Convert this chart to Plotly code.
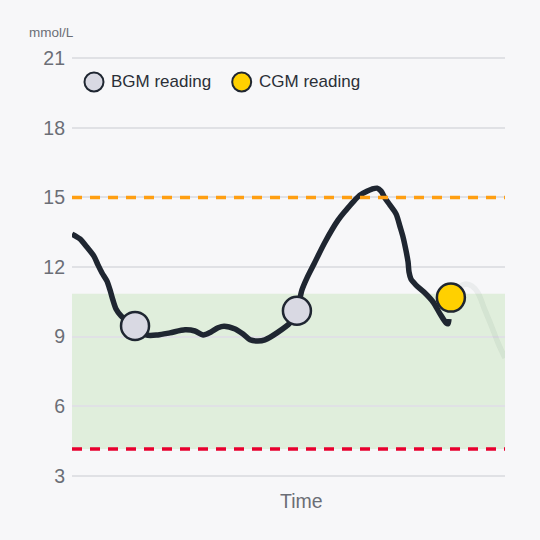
import plotly.graph_objects as go

# ---- data (time in minutes, glucose in mmol/L) ----
cgm_time = [0.0, 3.3, 6.2, 9.1, 10.8, 12.5, 14.5, 15.8, 17.0, 18.3, 20.4, 23.3, 26.2,
            30.8, 35.7, 40.7, 47.0, 51.1, 54.5, 57.8, 60.7, 63.2, 67.8, 71.1, 74.0,
            77.3, 80.2, 85.2, 90.6, 93.5, 95.6, 97.7, 100.6, 105.2, 110.6, 113.9,
            116.8, 119.7, 122.6, 124.7, 126.8, 128.5, 130.1, 132.2, 134.7, 136.4,
            137.6, 138.8, 139.7, 140.1, 140.9, 143.0, 146.3, 150.1, 153.0, 155.5,
            156.3, 156.7]
cgm_value = [13.42, 13.21, 12.86, 12.47, 12.09, 11.74, 11.40, 11.01, 10.58, 10.19, 9.89,
             9.63, 9.46, 9.07, 9.07, 9.16, 9.29, 9.24, 9.07, 9.20, 9.38, 9.45, 9.33,
             9.11, 8.86, 8.81, 8.86, 9.16, 9.59, 10.11, 11.01, 11.53, 12.13, 13.08,
             14.02, 14.45, 14.80, 15.10, 15.27, 15.36, 15.40, 15.27, 14.97, 14.67,
             14.29, 13.73, 13.30, 12.73, 12.22, 11.78, 11.48, 11.22, 10.92, 10.49,
             9.98, 9.59, 9.55, 9.76]

future_time = [157.5, 160.4, 163.8, 166.3, 168.8, 171.3, 174.2, 177.1, 180.0]
future_value = [10.67, 11.10, 11.27, 11.18, 10.88, 10.23, 9.50, 8.73, 8.08]

bgm_time = [26.2, 93.5]
bgm_value = [9.46, 10.11]

cgm_read_time = [157.5]
cgm_read_value = [10.68]

target_low = 4.15
target_high = 10.85
high_alert = 15.0

y_ticks = [3, 6, 9, 12, 15, 18, 21]
legend_labels = ["BGM reading", "CGM reading"]

# ---- style ----
BG = "#f7f7f9"
LINE = "#1f2631"
BGM_FILL = "#d9d9e3"
CGM_FILL = "#ffd000"
GRID = "#e0e1e5"
TICK = "#6b6e76"
FONT = "Liberation Sans, Arial, sans-serif"

fig = go.Figure()

fig.add_trace(go.Scatter(
    x=future_time, y=future_value, mode="lines",
    line=dict(color="rgba(40,70,50,0.06)", width=5.5, shape="spline", smoothing=1.0),
    hoverinfo="skip", showlegend=False))

fig.add_trace(go.Scatter(
    x=cgm_time, y=cgm_value, mode="lines",
    line=dict(color=LINE, width=5.5, shape="spline", smoothing=0.8),
    showlegend=False))

fig.add_trace(go.Scatter(
    x=bgm_time, y=bgm_value, mode="markers", name=legend_labels[0],
    marker=dict(size=28, color=BGM_FILL, line=dict(color=LINE, width=2.5)),
    showlegend=False))

fig.add_trace(go.Scatter(
    x=cgm_read_time, y=cgm_read_value, mode="markers", name=legend_labels[1],
    marker=dict(size=28, color=CGM_FILL, line=dict(color=LINE, width=2.5)),
    showlegend=False))

shapes = [
    dict(type="rect", xref="paper", yref="y", x0=0, x1=1, y0=target_low, y1=target_high,
         fillcolor="rgba(150,210,130,0.24)", line=dict(width=0), layer="below"),
    dict(type="line", xref="paper", yref="y", x0=0, x1=1, y0=high_alert, y1=high_alert,
         line=dict(color="#ff9f12", width=3.5, dash="10px,8px"), layer="above"),
    dict(type="line", xref="paper", yref="y", x0=0, x1=1, y0=target_low, y1=target_low,
         line=dict(color="#e8002e", width=3.5, dash="10px,8px"), layer="above"),
]

# legend (drawn manually to match symbol size)
leg_y = 0.9385
for cx, fill in [(0.0508, BGM_FILL), (0.3919, CGM_FILL)]:
    shapes.append(dict(type="circle", xref="paper", yref="paper",
                       xsizemode="pixel", ysizemode="pixel",
                       xanchor=cx, yanchor=leg_y, x0=-9.5, x1=9.5, y0=-9.5, y1=9.5,
                       fillcolor=fill, line=dict(color=LINE, width=2), layer="above"))

annotations = [
    dict(text=legend_labels[0], xref="paper", yref="paper", x=0.0855, y=leg_y,
         xanchor="left", yanchor="middle", showarrow=False,
         font=dict(size=17, color="#2b2f37", family=FONT)),
    dict(text=legend_labels[1], xref="paper", yref="paper", x=0.4266, y=leg_y,
         xanchor="left", yanchor="middle", showarrow=False,
         font=dict(size=17, color="#2b2f37", family=FONT)),
    dict(text="mmol/L", xref="paper", yref="paper", x=-0.0462, y=1.0568,
         xanchor="center", yanchor="middle", showarrow=False,
         font=dict(size=13.5, color=TICK, family=FONT)),
    dict(text="Time", xref="paper", yref="paper", x=0.5289, y=-0.0537,
         xanchor="center", yanchor="middle", showarrow=False,
         font=dict(size=19.5, color=TICK, family=FONT)),
]

fig.update_layout(
    width=540, height=540,
    margin=dict(l=72, r=35, t=55.7, b=61.7),
    paper_bgcolor=BG, plot_bgcolor=BG,
    shapes=shapes, annotations=annotations,
    showlegend=False,
    font=dict(family=FONT),
)
fig.update_xaxes(range=[0, 180], showgrid=False, zeroline=False,
                 showticklabels=False, showline=False, fixedrange=True)
fig.update_yaxes(range=[2.9, 21.1], tickvals=y_ticks, showgrid=True, gridcolor=GRID,
                 gridwidth=1.5, zeroline=False, showline=False, ticks="",
                 ticklabelstandoff=6,
                 tickfont=dict(size=19.5, color=TICK, family=FONT), fixedrange=True)

fig.write_html("out.html", config=dict(displayModeBar=False),
               post_script="document.body.style.margin='0';document.body.style.background='#f7f7f9';")
